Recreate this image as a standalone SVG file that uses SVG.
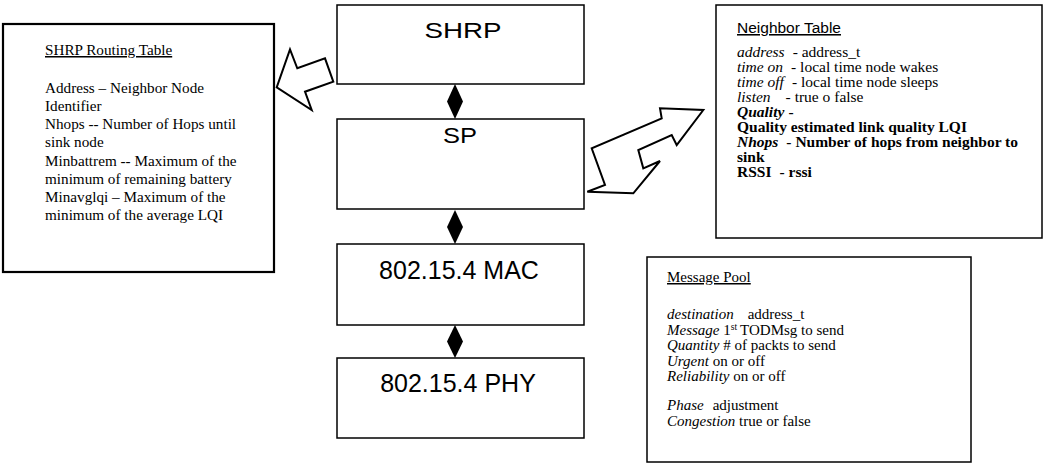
<svg xmlns="http://www.w3.org/2000/svg" width="1046" height="465" viewBox="0 0 1046 465">
<style>
  .box{fill:#fff;stroke:#000;stroke-width:1.5}
  .thick{stroke-width:2.2}
  .layer{font-family:"Liberation Sans",Arial,sans-serif;fill:#000;text-anchor:middle}
  .tnr{font-family:"Liberation Serif","Times New Roman",serif;fill:#000}
  .arial{font-family:"Liberation Sans",Arial,sans-serif;fill:#000}
  .u{text-decoration:underline}
  .i{font-style:italic}
  .b{font-weight:bold}
  .dia{fill:#000;stroke:none}
  .blk{fill:#fff;stroke:#000;stroke-width:2;stroke-linejoin:miter}
</style>
<rect width="1046" height="465" fill="#fff"/>
<g id="connectors">
<polygon class="dia" points="455,84 463,101.5 455,119 447,101.5"/>
<polygon class="dia" points="455,210 463,227 455,244 447,227"/>
<polygon class="dia" points="455,325 463,341.5 455,358 447,341.5"/>
<polygon class="blk" points="276.7,87.3 290,49.3 297.3,68.3 325,58.3 333.3,81.7 305,91.7 311.7,110"/>
<polygon class="blk" points="587.3,191.7 605,185 591.7,148.3 661.7,118.3 660,108.3 703.3,110 676.7,145 671.7,135 638.3,150 643.3,168.3 660,161 633.3,193.3"/>
</g>
<g id="node-shrp">
<rect class="box" x="337" y="5" width="247" height="79"/>
<text class="layer" x="463" y="38" font-size="22" textLength="77" lengthAdjust="spacingAndGlyphs">SHRP</text>
</g>
<g id="node-sp">
<rect class="box" x="337" y="119" width="247" height="90"/>
<text class="layer" x="460" y="143" font-size="22" textLength="34" lengthAdjust="spacingAndGlyphs">SP</text>
</g>
<g id="node-mac">
<rect class="box" x="337" y="244" width="247" height="81"/>
<text class="layer" x="459" y="279" font-size="25">802.15.4 MAC</text>
</g>
<g id="node-phy">
<rect class="box" x="337" y="358" width="247" height="80"/>
<text class="layer" x="458" y="392" font-size="25">802.15.4 PHY</text>
</g>
<g id="node-routing-table">
<rect class="box thick" x="3" y="24" width="271" height="248"/>
<g class="tnr" font-size="15.2">
<text class="u" x="45" y="55">SHRP Routing Table</text>
<text x="45" y="92.5">Address – Neighbor Node</text>
<text x="45" y="110.75">Identifier</text>
<text x="45" y="129">Nhops -- Number of Hops until</text>
<text x="45" y="147.25">sink node</text>
<text x="45" y="165.5">Minbattrem -- Maximum of the</text>
<text x="45" y="183.75">minimum of remaining battery</text>
<text x="45" y="202">Minavglqi – Maximum of the</text>
<text x="45" y="220.25">minimum of the average LQI</text>
</g>
</g>
<g id="node-neighbor-table">
<rect class="box" x="716" y="5" width="326" height="233"/>
<text class="arial u" x="737" y="33" font-size="15.5">Neighbor Table</text>
<g class="tnr" font-size="15.5">
<text x="737" y="56.5"><tspan class="i">address</tspan><tspan dx="8">- address_t</tspan></text>
<text x="737" y="71.5"><tspan class="i">time on</tspan><tspan dx="8">- local time node wakes</tspan></text>
<text x="737" y="86.5"><tspan class="i">time off</tspan><tspan dx="8">- local time node sleeps</tspan></text>
<text x="737" y="101.5"><tspan class="i">listen</tspan><tspan dx="15">- true o false</tspan></text>
<text class="b" x="737" y="116.5"><tspan class="i">Quality</tspan><tspan dx="4">-</tspan></text>
<text class="b" x="737" y="131.5">Quality estimated link quality LQI</text>
<text class="b" x="737" y="146.5"><tspan class="i">Nhops</tspan><tspan dx="8">- Number of hops from neighbor to</tspan></text>
<text class="b" x="737" y="161.5">sink</text>
<text class="b" x="737" y="176.5">RSSI<tspan dx="8">- rssi</tspan></text>
</g>
</g>
<g id="node-message-pool">
<rect class="box" x="647" y="257" width="324" height="205"/>
<g class="tnr" font-size="15">
<text class="u" x="667" y="282">Message Pool</text>
<text x="667" y="319"><tspan class="i">destination</tspan><tspan dx="14">address_t</tspan></text>
<text x="667" y="334.5"><tspan class="i">Message</tspan> 1<tspan font-size="9.5" dy="-5">st</tspan><tspan dy="5" dx="3">TODMsg to send</tspan></text>
<text x="667" y="350"><tspan class="i">Quantity</tspan> # of packts to send</text>
<text x="667" y="365.5"><tspan class="i">Urgent</tspan> on or off</text>
<text x="667" y="381"><tspan class="i">Reliability</tspan> on or off</text>
<text x="667" y="410"><tspan class="i">Phase</tspan><tspan dx="9">adjustment</tspan></text>
<text x="667" y="425.5"><tspan class="i">Congestion</tspan> true or false</text>
</g>
</g>
</svg>
